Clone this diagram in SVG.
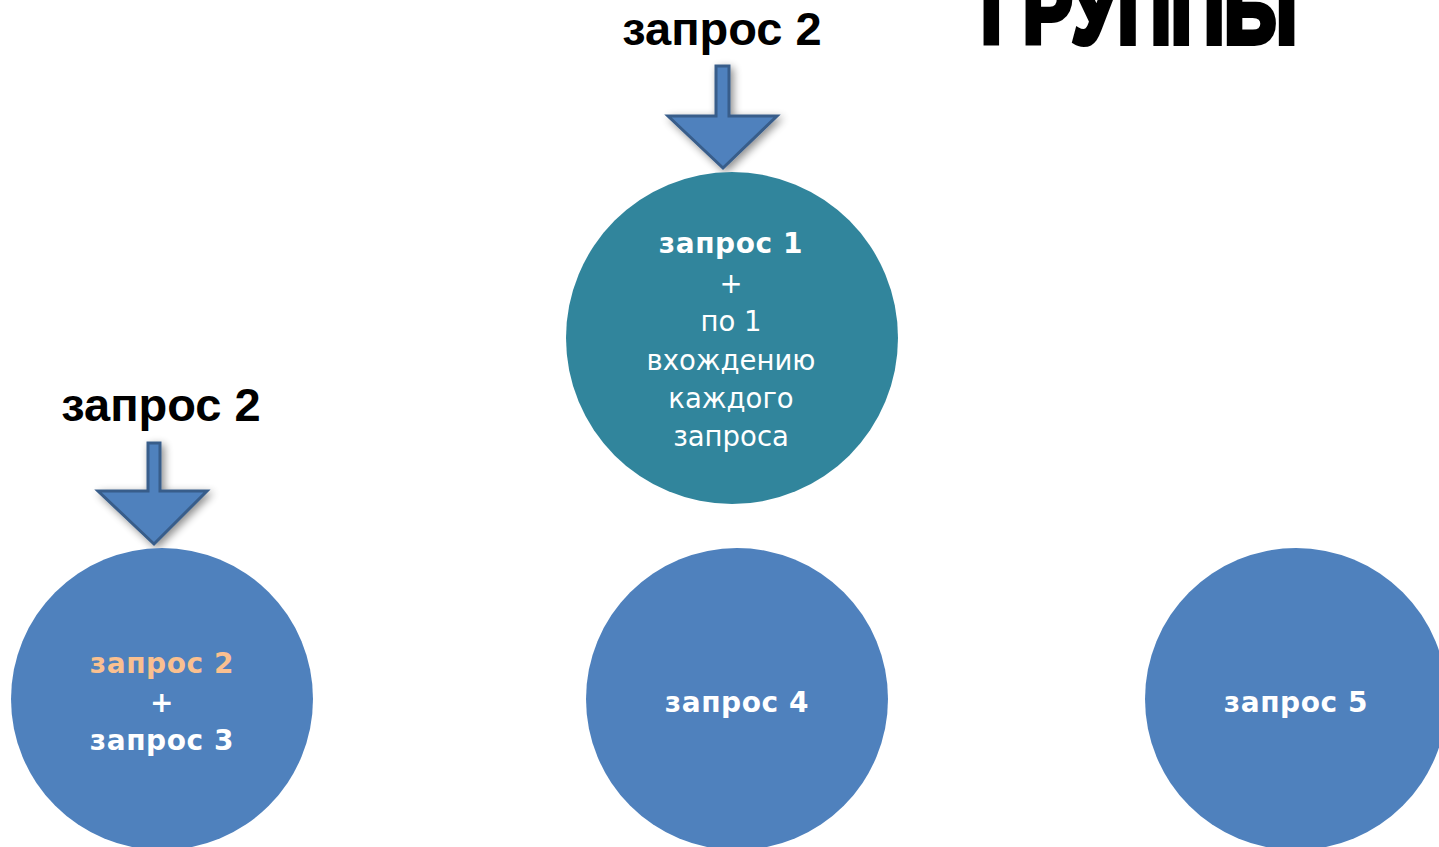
<svg xmlns="http://www.w3.org/2000/svg" width="1439" height="847" viewBox="0 0 1439 847">
<defs>
<filter id="sh" x="-30%" y="-30%" width="160%" height="160%">
<feGaussianBlur in="SourceAlpha" stdDeviation="4"/>
<feOffset dx="3" dy="3" result="b"/>
<feComponentTransfer><feFuncA type="linear" slope="0.45"/></feComponentTransfer>
<feMerge><feMergeNode/><feMergeNode in="SourceGraphic"/></feMerge>
</filter>
</defs>
<style>
.lbl{font-family:"Liberation Sans",Arial,sans-serif;font-weight:bold;font-size:47px;fill:#000;text-anchor:middle}
.ct{font-family:"DejaVu Sans",Verdana,sans-serif;font-size:27.5px;fill:#fff;text-anchor:middle}
.b{font-weight:bold;font-size:28px;letter-spacing:0.6px}
.arrow{fill:#4F81BD;stroke:#385D8A;stroke-width:3;stroke-linejoin:miter}
.blue{fill:#4F81BD}
.teal{fill:#31859C}
</style>
<rect width="1439" height="847" fill="#fff"/>
<text id="title" x="981" y="43" textLength="316" lengthAdjust="spacingAndGlyphs" style="font-family:'Liberation Sans',Arial,sans-serif;font-weight:bold;font-size:92px;fill:#000;stroke:#000;stroke-width:6">ГРУППЫ</text>
<g id="connectors">
<path class="arrow" filter="url(#sh)" d="M716,66 H729 V116 H777 L723,168 L668,116 H716 Z"/>
<path class="arrow" filter="url(#sh)" d="M148,443 H160 V491 H207 L154,544 L98,491 H148 Z"/>
</g>
<g id="label-top"><text class="lbl" x="722" y="45">запрос 2</text></g>
<g id="label-left"><text class="lbl" x="161" y="421">запрос 2</text></g>
<g id="node-1">
<circle class="teal" cx="732" cy="338" r="166"/>
<text class="ct" x="731" y="253"><tspan class="b">запрос 1</tspan><tspan x="731" y="293">+</tspan><tspan x="731" y="331">по 1</tspan><tspan x="731" y="370">вхождению</tspan><tspan x="731" y="408">каждого</tspan><tspan x="731" y="446">запроса</tspan></text>
</g>
<g id="node-23">
<circle class="blue" cx="162" cy="699" r="151"/>
<text class="ct b" x="162" y="673" style="fill:#FAC090">запрос 2</text>
<text class="ct b" x="162" y="712">+</text>
<text class="ct b" x="162" y="750">запрос 3</text>
</g>
<g id="node-4">
<circle class="blue" cx="737" cy="699" r="151"/>
<text class="ct b" x="737" y="712">запрос 4</text>
</g>
<g id="node-5">
<circle class="blue" cx="1296" cy="699" r="151"/>
<text class="ct b" x="1296" y="712">запрос 5</text>
</g>
</svg>
